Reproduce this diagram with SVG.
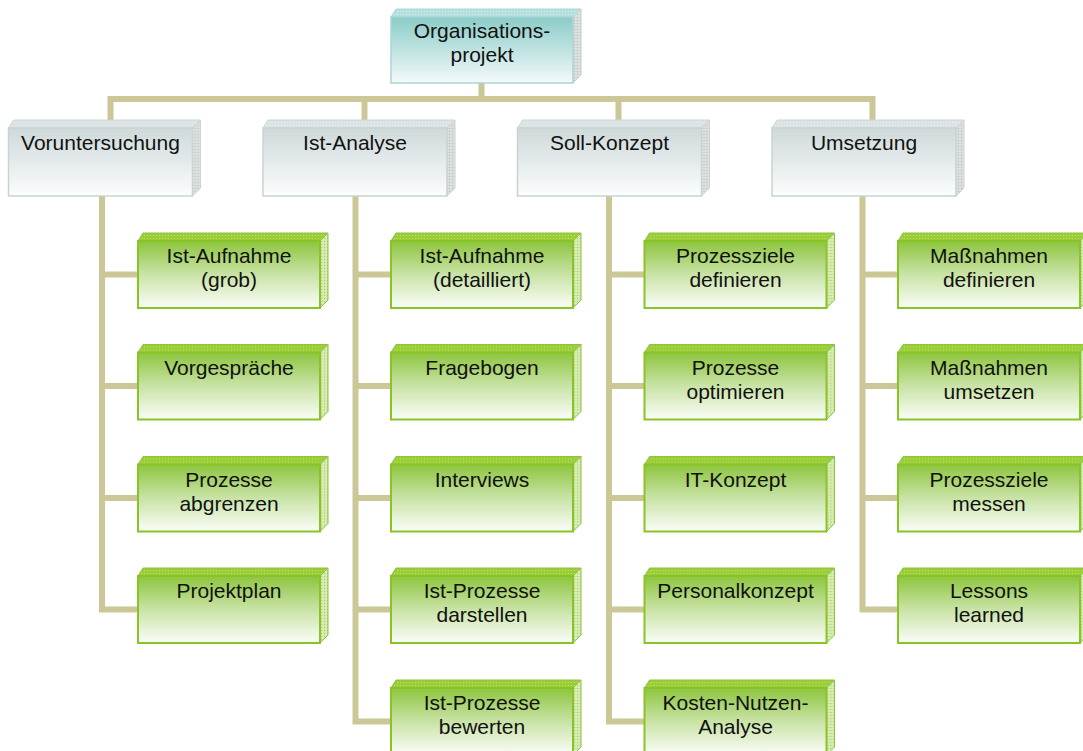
<svg xmlns="http://www.w3.org/2000/svg" xmlns:xlink="http://www.w3.org/1999/xlink" width="1083" height="751" viewBox="0 0 1083 751">
<style>
text{font-family:"Liberation Sans",Arial,sans-serif;font-size:21px;fill:#111;text-anchor:middle}
.con{fill:none;stroke:#cbc797;stroke-width:6;stroke-linejoin:miter;stroke-linecap:butt}
</style>
<defs>
<linearGradient id="gTop" x1="0" y1="0" x2="0" y2="1"><stop offset="0" stop-color="#8bccc8"/><stop offset="0.55" stop-color="#c4e5e3"/><stop offset="1" stop-color="#f4fafa"/></linearGradient>
<linearGradient id="gL2" x1="0" y1="0" x2="0" y2="1"><stop offset="0" stop-color="#cfd9da"/><stop offset="0.6" stop-color="#e9eeee"/><stop offset="1" stop-color="#fdfefe"/></linearGradient>
<linearGradient id="gL3" x1="0" y1="0" x2="0" y2="1"><stop offset="0" stop-color="#8dc53e"/><stop offset="0.5" stop-color="#c9e3a6"/><stop offset="1" stop-color="#fbfdf8"/></linearGradient>
<pattern id="pTopT" width="3" height="3" patternUnits="userSpaceOnUse"><rect width="3" height="3" fill="#b5dfdc"/><rect width="1" height="1" fill="#d8efee"/></pattern>
<pattern id="pGray" width="3" height="3" patternUnits="userSpaceOnUse"><rect width="3" height="3" fill="#d8dbdb"/><rect width="1" height="1" fill="#bcc0c0"/><rect x="1.5" y="1.5" width="1" height="1" fill="#f2f2f2"/></pattern>
<pattern id="pL2T" width="3" height="3" patternUnits="userSpaceOnUse"><rect width="3" height="3" fill="#dae2e3"/><rect width="1" height="1" fill="#eef2f2"/></pattern>
<pattern id="pL3T" width="3" height="3" patternUnits="userSpaceOnUse"><rect width="3" height="3" fill="#9acd36"/><rect width="1" height="1" fill="#bde174"/></pattern>
<pattern id="pL3R" width="3" height="3" patternUnits="userSpaceOnUse"><rect width="3" height="3" fill="#d2e8aa"/><rect width="1" height="1" fill="#a8cc74"/><rect x="1.5" y="1.5" width="1" height="1" fill="#f0f8e4"/></pattern>
<g id="cubeTop">
<polygon points="0,0 5,-8 190,-8 182,0" fill="url(#pTopT)" stroke="#a9d7d4" stroke-width="1"/>
<polygon points="182,0 190,-8 190,58 182,66" fill="url(#pGray)" stroke="#c9d0cf" stroke-width="1"/>
<rect x="0" y="0" width="182" height="66" fill="url(#gTop)" stroke="#a9d7d4" stroke-width="1.5"/>
</g>
<g id="cube2">
<polygon points="0,0 5,-8 192,-8 184,0" fill="url(#pL2T)" stroke="#cdd6d7" stroke-width="1"/>
<polygon points="184,0 192,-8 192,60 184,68" fill="url(#pGray)" stroke="#ccd2d2" stroke-width="1"/>
<rect x="0" y="0" width="184" height="68" fill="url(#gL2)" stroke="#c9d3d4" stroke-width="1.5"/>
</g>
<g id="cube3">
<polygon points="0,0 5,-8 190,-8 182,0" fill="url(#pL3T)" stroke="#8cc43a" stroke-width="1"/>
<polygon points="182,0 190,-8 190,59 182,67" fill="url(#pL3R)" stroke="#8cc43a" stroke-width="1"/>
<rect x="0" y="0" width="182" height="67" fill="url(#gL3)" stroke="#88c425" stroke-width="2"/>
</g>
</defs>
<rect width="1083" height="751" fill="#ffffff"/>
<g id="connectors">
<path class="con" d="M481.5,83 V99"/>
<path class="con" d="M110.5,124 V99 H872.5 V124"/>
<path class="con" d="M364.5,99 V124 M618.5,99 V124"/>
<path class="con" d="M102,196 V609.5 H138 M102,274.5 H138 M102,386 H138 M102,498 H138"/>
<path class="con" d="M355.5,196 V721.5 H391 M355.5,274.5 H391 M355.5,386 H391 M355.5,498 H391 M355.5,609.5 H391"/>
<path class="con" d="M609,196 V721.5 H644.5 M609,274.5 H644.5 M609,386 H644.5 M609,498 H644.5 M609,609.5 H644.5"/>
<path class="con" d="M862.5,196 V609.5 H898 M862.5,274.5 H898 M862.5,386 H898 M862.5,498 H898"/>
</g>
<g id="organisationsprojekt"><use xlink:href="#cubeTop" x="391" y="17"/><text x="482" y="38">Organisations-</text><text x="482" y="62">projekt</text></g>
<g id="voruntersuchung"><use xlink:href="#cube2" x="8.5" y="128"/><text x="100.5" y="150">Voruntersuchung</text></g>
<g id="ist-analyse"><use xlink:href="#cube2" x="263" y="128"/><text x="355" y="150">Ist-Analyse</text></g>
<g id="soll-konzept"><use xlink:href="#cube2" x="517.5" y="128"/><text x="609.5" y="150">Soll-Konzept</text></g>
<g id="umsetzung"><use xlink:href="#cube2" x="772" y="128"/><text x="864" y="150">Umsetzung</text></g>

<g id="ist-aufnahme-grob"><use xlink:href="#cube3" x="138" y="241"/><text x="229" y="263">Ist-Aufnahme</text><text x="229" y="287">(grob)</text></g>
<g id="vorgespraeche"><use xlink:href="#cube3" x="138" y="352.5"/><text x="229" y="374.5">Vorgespräche</text></g>
<g id="prozesse-abgrenzen"><use xlink:href="#cube3" x="138" y="464.5"/><text x="229" y="486.5">Prozesse</text><text x="229" y="510.5">abgrenzen</text></g>
<g id="projektplan"><use xlink:href="#cube3" x="138" y="576"/><text x="229" y="598">Projektplan</text></g>

<g id="ist-aufnahme-detailliert"><use xlink:href="#cube3" x="391" y="241"/><text x="482" y="263">Ist-Aufnahme</text><text x="482" y="287">(detailliert)</text></g>
<g id="fragebogen"><use xlink:href="#cube3" x="391" y="352.5"/><text x="482" y="374.5">Fragebogen</text></g>
<g id="interviews"><use xlink:href="#cube3" x="391" y="464.5"/><text x="482" y="486.5">Interviews</text></g>
<g id="ist-prozesse-darstellen"><use xlink:href="#cube3" x="391" y="576"/><text x="482" y="598">Ist-Prozesse</text><text x="482" y="622">darstellen</text></g>
<g id="ist-prozesse-bewerten"><use xlink:href="#cube3" x="391" y="688"/><text x="482" y="710">Ist-Prozesse</text><text x="482" y="734">bewerten</text></g>

<g id="prozessziele-definieren"><use xlink:href="#cube3" x="644.5" y="241"/><text x="735.5" y="263">Prozessziele</text><text x="735.5" y="287">definieren</text></g>
<g id="prozesse-optimieren"><use xlink:href="#cube3" x="644.5" y="352.5"/><text x="735.5" y="374.5">Prozesse</text><text x="735.5" y="398.5">optimieren</text></g>
<g id="it-konzept"><use xlink:href="#cube3" x="644.5" y="464.5"/><text x="735.5" y="486.5">IT-Konzept</text></g>
<g id="personalkonzept"><use xlink:href="#cube3" x="644.5" y="576"/><text x="735.5" y="598">Personalkonzept</text></g>
<g id="kosten-nutzen-analyse"><use xlink:href="#cube3" x="644.5" y="688"/><text x="735.5" y="710">Kosten-Nutzen-</text><text x="735.5" y="734">Analyse</text></g>

<g id="massnahmen-definieren"><use xlink:href="#cube3" x="898" y="241"/><text x="989" y="263">Maßnahmen</text><text x="989" y="287">definieren</text></g>
<g id="massnahmen-umsetzen"><use xlink:href="#cube3" x="898" y="352.5"/><text x="989" y="374.5">Maßnahmen</text><text x="989" y="398.5">umsetzen</text></g>
<g id="prozessziele-messen"><use xlink:href="#cube3" x="898" y="464.5"/><text x="989" y="486.5">Prozessziele</text><text x="989" y="510.5">messen</text></g>
<g id="lessons-learned"><use xlink:href="#cube3" x="898" y="576"/><text x="989" y="598">Lessons</text><text x="989" y="622">learned</text></g>
</svg>
